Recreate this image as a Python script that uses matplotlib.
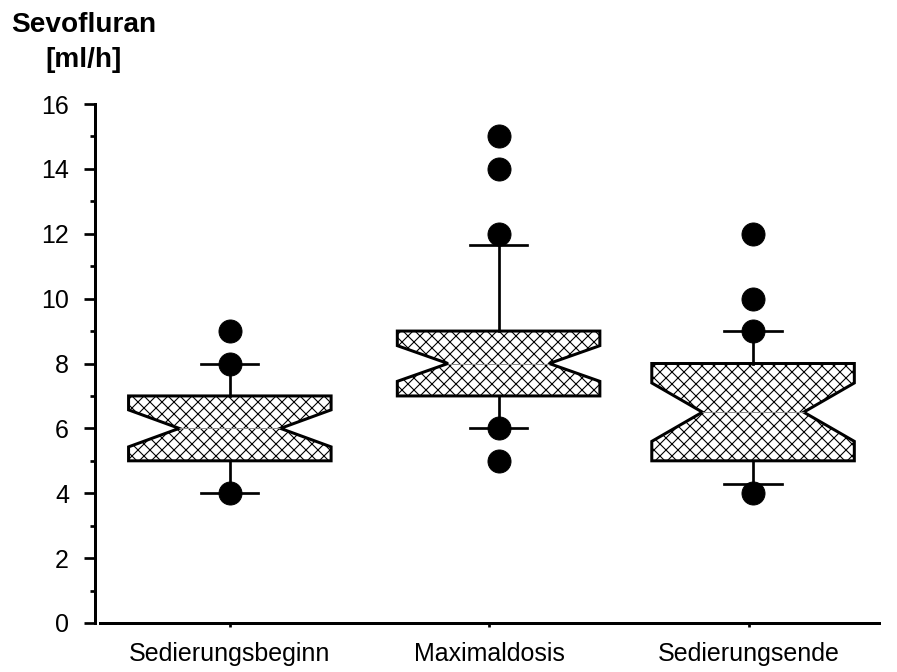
import matplotlib
matplotlib.use("Agg")
import matplotlib.pyplot as plt
from matplotlib.ticker import MultipleLocator

plt.rcParams['font.family'] = ['Liberation Sans', 'DejaVu Sans']
plt.rcParams['hatch.linewidth'] = 1.1

# Werte
categories = ["Sedierungsbeginn", "Maximaldosis", "Sedierungsende"]
q1 = [5, 7, 5]
median = [6, 8, 6.5]
q3 = [7, 9, 8]
notch_lo = [5.43, 7.45, 5.6]
notch_hi = [6.57, 8.55, 7.4]
whisker_lo = [4, 6, 4.3]
whisker_hi = [8, 11.65, 9]
outliers = [[9, 8, 4], [15, 14, 12, 6, 5], [12, 10, 9, 4]]

stats = []
for i in range(len(categories)):
    stats.append(dict(med=median[i], q1=q1[i], q3=q3[i],
                      whislo=whisker_lo[i], whishi=whisker_hi[i],
                      cilo=notch_lo[i], cihi=notch_hi[i],
                      fliers=outliers[i], label=categories[i]))

dpi = 72
fig = plt.figure(figsize=(897 / dpi, 672 / dpi), dpi=dpi)
ax = fig.add_axes([100 / 897, 49 / 672, 779 / 897, 519 / 672])

ticks = [1, 2, 3]
box_pos = [1, 2.035, 3.015]
ax.bxp(stats, positions=box_pos, widths=0.78, shownotches=True,
       patch_artist=True, capwidths=0.22,
       boxprops=dict(facecolor='white', edgecolor='black', hatch='xx', linewidth=3),
       whiskerprops=dict(color='black', linewidth=2.7),
       capprops=dict(color='black', linewidth=2.7),
       medianprops=dict(color='0.55', linewidth=1),
       flierprops=dict(marker='o', markerfacecolor='black', markeredgecolor='black',
                       markersize=23, linestyle='none'))

ax.set_xlim(0.5, 3.5)
ax.set_ylim(0, 16)
ax.set_xticks(ticks)
ax.set_xticklabels(categories, fontsize=25)
ax.yaxis.set_major_locator(MultipleLocator(2))
ax.yaxis.set_minor_locator(MultipleLocator(1))
ax.tick_params(axis='y', which='major', direction='out', length=11, width=2.7,
               labelsize=25, pad=15)
ax.tick_params(axis='y', which='minor', direction='out', length=5, width=2.7)
ax.tick_params(axis='x', direction='out', length=4, width=2.7, pad=15)

ax.spines['top'].set_visible(False)
ax.spines['right'].set_visible(False)
ax.spines['left'].set_position(('outward', 5))
ax.spines['left'].set_linewidth(3)
ax.spines['bottom'].set_linewidth(3)

fig.text(84 / 897, 1 - 12 / 672, "Sevofluran\n[ml/h]", ha='center', va='top',
         fontsize=28, fontweight='bold', multialignment='center', linespacing=1.45)

fig.savefig("out.png", dpi=dpi)
